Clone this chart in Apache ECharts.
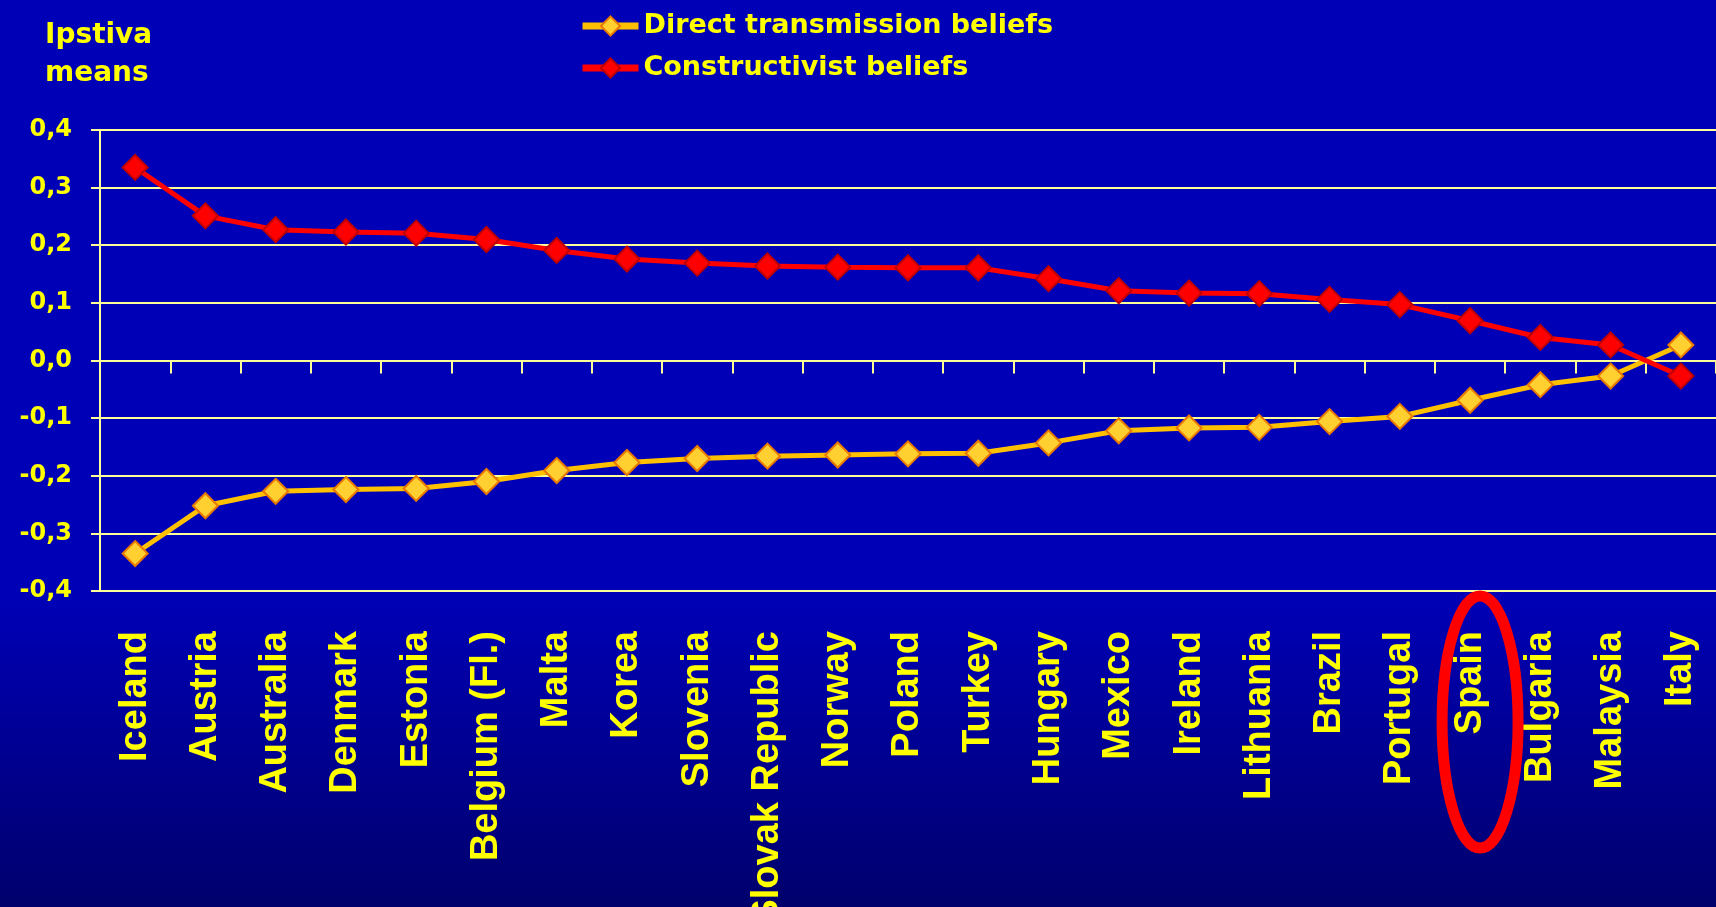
<!DOCTYPE html>
<html>
<head>
<meta charset="utf-8">
<title>Ipstiva means</title>
<script src="https://cdn.jsdelivr.net/npm/echarts@6/dist/echarts.min.js"></script>
<style>
  html, body { margin: 0; padding: 0; width: 100%; height: 100%; overflow: hidden; }
  #chart { width: 1716px; height: 907px; }
</style>
</head>
<body>
<div id="chart"></div>
<script>
// 国家 (x 轴类目)
var countries = ['Iceland', 'Austria', 'Australia', 'Denmark', 'Estonia', 'Belgium (Fl.)', 'Malta', 'Korea',
  'Slovenia', 'Slovak Republic', 'Norway', 'Poland', 'Turkey', 'Hungary', 'Mexico', 'Ireland', 'Lithuania',
  'Brazil', 'Portugal', 'Spain', 'Bulgaria', 'Malaysia', 'Italy']

// 两条折线的数值
var directValues = [-0.335, -0.252, -0.227, -0.224, -0.222, -0.210, -0.191, -0.177, -0.170, -0.166, -0.164,
  -0.162, -0.161, -0.143, -0.122, -0.117, -0.116, -0.106, -0.097, -0.069, -0.042, -0.027, 0.027]
var constructValues = [0.335, 0.251, 0.227, 0.223, 0.221, 0.210, 0.191, 0.176, 0.169, 0.164, 0.162,
  0.161, 0.161, 0.142, 0.121, 0.117, 0.116, 0.106, 0.097, 0.069, 0.040, 0.027, -0.027]

var seriesNames = ['Direct transmission beliefs', 'Constructivist beliefs']
var yTicks = { min: -0.4, max: 0.4, step: 0.1 }
var highlighted = 'Spain'

var yellow = '#ffff00'
var gridColor = '#ffff99'
var font = "'DejaVu Sans', sans-serif"
var labelFont = "'Liberation Sans', sans-serif"

var myChart = echarts.init(document.getElementById('chart'))

var option = {
  animation: false,
  backgroundColor: {
    type: 'linear', x: 0, y: 0, x2: 0, y2: 1,
    colorStops: [
      { offset: 0, color: '#0000b6' },
      { offset: 0.66, color: '#0000b6' },
      { offset: 1, color: '#00006c' }
    ]
  },
  title: {
    text: 'Ipstiva\nmeans',
    left: 40,
    top: 12,
    textStyle: { color: yellow, fontFamily: font, fontWeight: 'bold', fontSize: 28, lineHeight: 38 }
  },
  legend: {
    orient: 'vertical',
    left: 574,
    top: 4,
    itemWidth: 56,
    itemHeight: 24,
    itemGap: 8,
    data: seriesNames,
    lineStyle: { width: 7 },
    textStyle: { color: yellow, fontFamily: font, fontWeight: 'bold', fontSize: 27, lineHeight: 34 }
  },
  grid: { left: 100, right: 0, top: 130, bottom: 316, containLabel: false, outerBoundsMode: 'none' },
  xAxis: [
    {
      // 底部的国家标签
      type: 'category',
      data: countries,
      position: 'bottom',
      axisLine: { show: false, onZero: false },
      axisTick: { show: false },
      splitLine: { show: false },
      axisLabel: {
        interval: 0,
        rotate: 90,
        margin: 40,
        color: yellow,
        fontFamily: labelFont,
        fontWeight: 'bold',
        fontSize: 38
      }
    },
    {
      // 0 位置的轴线和刻度
      type: 'category',
      data: countries,
      position: 'bottom',
      axisLine: { show: true, onZero: true, lineStyle: { color: gridColor, width: 2 } },
      axisTick: { show: true, interval: 0, length: 13, lineStyle: { color: gridColor, width: 2 } },
      axisLabel: { show: false, interval: 0 },
      splitLine: { show: false }
    }
  ],
  yAxis: {
    type: 'value',
    min: yTicks.min,
    max: yTicks.max,
    interval: yTicks.step,
    axisLine: { show: true, lineStyle: { color: gridColor, width: 2 } },
    axisTick: { show: true, length: 9, lineStyle: { color: gridColor, width: 2 } },
    splitLine: { lineStyle: { color: gridColor, width: 2 } },
    axisLabel: {
      margin: 28,
      color: yellow,
      fontFamily: font,
      fontWeight: 'bold',
      fontSize: 24,
      formatter: function (v) { return v.toFixed(1).replace('.', ',') }
    }
  },
  series: [
    {
      name: seriesNames[0],
      type: 'line',
      data: directValues,
      symbol: 'diamond',
      symbolSize: 25,
      lineStyle: { color: '#ffc000', width: 5 },
      itemStyle: { color: '#ffd030', borderColor: '#e87800', borderWidth: 2 }
    },
    {
      name: seriesNames[1],
      type: 'line',
      data: constructValues,
      symbol: 'diamond',
      symbolSize: 25,
      lineStyle: { color: '#ff0000', width: 5 },
      itemStyle: { color: '#ff0000', borderColor: '#c00000', borderWidth: 2 }
    }
  ]
}

myChart.setOption(option)

// 圈出 Spain 的红色椭圆
var sx = myChart.convertToPixel({ xAxisIndex: 0 }, highlighted)
var bottomY = myChart.convertToPixel({ yAxisIndex: 0 }, yTicks.min)
myChart.setOption({
  graphic: [{
    type: 'ellipse',
    shape: { cx: sx + 10, cy: bottomY + 131, rx: 38, ry: 126 },
    style: { fill: 'none', stroke: '#ff0000', lineWidth: 11 },
    z: 100
  }]
})
</script>
</body>
</html>
